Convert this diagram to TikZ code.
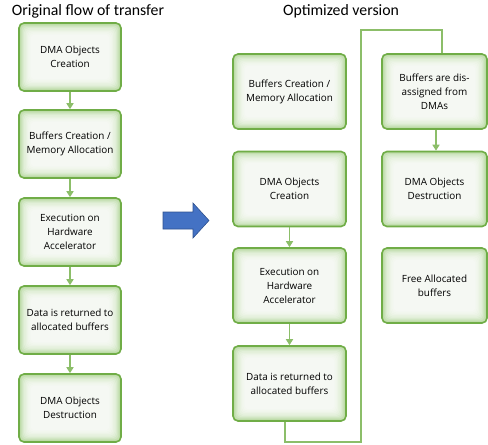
\documentclass[tikz,border=0pt]{standalone}
\usepackage{fontspec}
\setmainfont{Open Sans}
\newfontfamily\titlefont{Carlito}
\usetikzlibrary{calc, arrows.meta}

\definecolor{boxgreen}{RGB}{112,173,71}
\definecolor{linegreen}{RGB}{140,190,105}
\definecolor{glowgreen}{RGB}{180,215,156}
\definecolor{bluefill}{RGB}{68,114,196}
\definecolor{blueedge}{RGB}{47,82,143}

\begin{document}
\begin{tikzpicture}[x=1pt, y=-1pt,
  step box/.style={draw=boxgreen, line width=1.6pt, rounded corners=5pt,
    fill=glowgreen, align=center, inner sep=2pt,
    font=\fontsize{9.9}{14}\selectfont,
    path picture={
      \foreach \i in {1,...,9}
        \fill[white, opacity=0.22, rounded corners=4pt]
          ($(path picture bounding box.south west)+(1.3*\i pt,1.3*\i pt)$) rectangle
          ($(path picture bounding box.north east)-(1.3*\i pt,1.3*\i pt)$);}},
  small/.style={step box, minimum width=102pt, minimum height=68pt},
  big/.style={step box, minimum width=113pt, minimum height=75pt},
  side/.style={step box, minimum width=105pt, minimum height=75pt},
  flow/.style={draw=linegreen, line width=1.6pt},
  next/.style={flow, -{Triangle[width=7pt, length=6pt]}},
  title/.style={font=\titlefont\fontsize{15.8}{17}\selectfont}]
  \useasboundingbox (0,0) rectangle (488,445);

  % titles
  \node[title] (origT) at (88,11) {Original flow of transfer};
  \node[title] (optT) at (341,11) {Optimized version};

  % original flow
  \node[small] (dmaA)  at (70,57)  {DMA Objects\\Creation};
  \node[small] (bufA)  at (70,144) {Buffers Creation /\\Memory Allocation};
  \node[small] (execA) at (70,232) {Execution on\\Hardware\\Accelerator};
  \node[small] (dataA) at (70,320) {Data is returned to\\allocated buffers};
  \node[small] (destA) at (70,408) {DMA Objects\\Destruction};
  \draw[next] (dmaA) -- (bufA);
  \draw[next] (bufA) -- (execA);
  \draw[next] (execA) -- (dataA);
  \draw[next] (dataA) -- (destA);

  % big arrow between the two versions
  \fill[bluefill, draw=blueedge, line width=0.6pt]
    (163,212) -- (193,212) -- (193,203) -- (209,220.5) -- (193,238)
    -- (193,229) -- (163,229) -- cycle;

  % optimized version
  \node[big] (bufB)  at (289.5,91.5)  {Buffers Creation /\\Memory Allocation};
  \node[big] (dmaB)  at (289.5,189)   {DMA Objects\\Creation};
  \node[big] (execB) at (289.5,285.5) {Execution on\\Hardware\\Accelerator};
  \node[big] (dataB) at (289.5,383.5) {Data is returned to\\allocated buffers};
  \node[side] (unassign) at (434.5,91.5) {Buffers are dis-\\assigned from\\DMAs};
  \node[side] (destB) at (434.5,189)   {DMA Objects\\Destruction};
  \node[side] (freeB) at (434.5,285.5) {Free Allocated\\buffers};
  \draw[next] (dmaB) -- (execB);
  \draw[next] (execB) -- (dataB);
  \draw[next] ([xshift=1.5pt]unassign.south) -- ([xshift=1.5pt]destB.north);

  \coordinate (loopA) at (361,442);
  \coordinate (loopB) at (361,30);
  \draw[flow] ([xshift=-4.5pt]dataB.south) |- (loopA) -- (loopB)
    -| ([xshift=7.5pt]unassign.north);
\end{tikzpicture}
\end{document}
